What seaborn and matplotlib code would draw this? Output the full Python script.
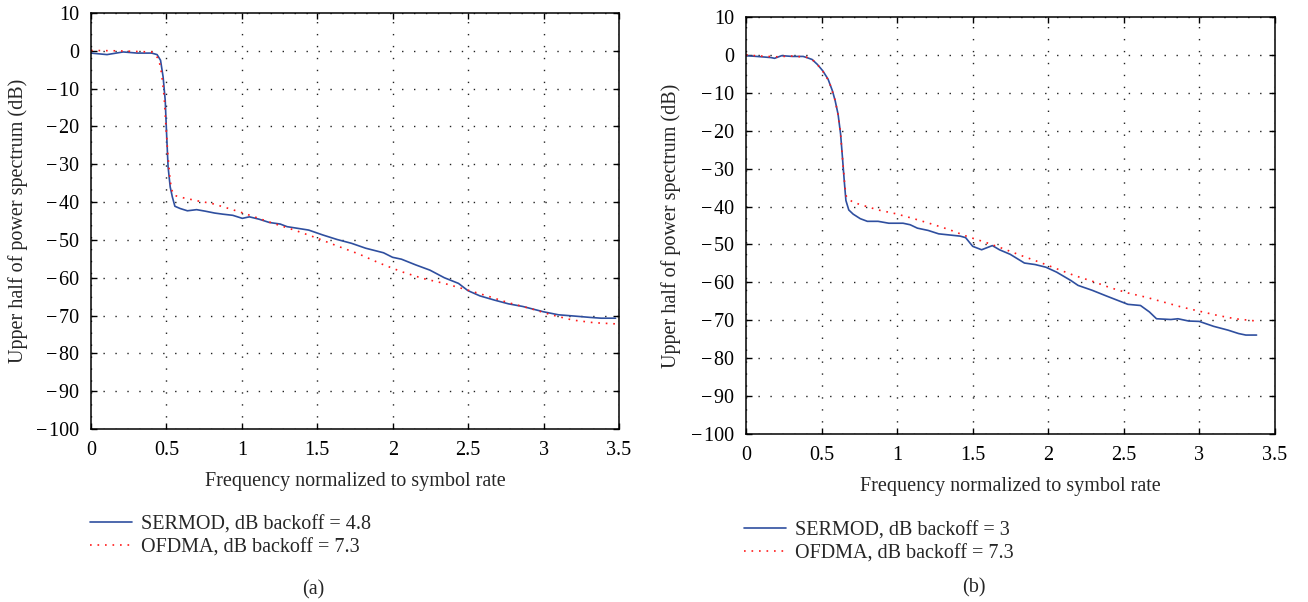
import numpy as np
import pandas as pd
import matplotlib
matplotlib.use("Agg")
import matplotlib.pyplot as plt
import seaborn as sns

# ---- Panel (a): SERMOD 4.8 dB backoff vs OFDMA 7.3 dB backoff ----
a_sermod_f = [0.000, 0.106, 0.213, 0.307, 0.402, 0.438, 0.461, 0.478, 0.492, 0.501,
              0.511, 0.525, 0.539, 0.556, 0.591, 0.639, 0.700, 0.757, 0.820, 0.875,
              0.940, 1.003, 1.050, 1.112, 1.183, 1.254, 1.300, 1.348, 1.443, 1.537,
              1.632, 1.727, 1.821, 1.939, 1.999, 2.058, 2.152, 2.247, 2.342, 2.436,
              2.498, 2.578, 2.673, 2.767, 2.862, 2.999, 3.098, 3.193, 3.311, 3.382, 3.477]
a_sermod_db = [-0.6, -1.0, -0.3, -0.6, -0.6, -1.0, -2.5, -6.9, -13.1, -21.9,
               -30.7, -36.0, -38.6, -41.1, -41.7, -42.3, -42.0, -42.4, -42.9, -43.2,
               -43.5, -44.3, -43.9, -44.5, -45.4, -45.8, -46.5, -46.8, -47.4, -48.7,
               -49.9, -50.9, -52.2, -53.4, -54.6, -55.1, -56.6, -58.0, -60.0, -61.5,
               -63.4, -64.8, -65.9, -66.9, -67.6, -69.0, -69.8, -70.1, -70.5, -70.7, -70.7]

a_ofdma_f = [0.000, 0.166, 0.402, 0.449, 0.468, 0.485, 0.497, 0.509, 0.520, 0.532,
             0.549, 0.615, 0.710, 0.804, 0.922, 1.017, 1.112, 1.206, 1.348, 1.490,
             1.632, 1.774, 1.916, 2.058, 2.200, 2.342, 2.483, 2.625, 2.767, 2.909,
             3.051, 3.193, 3.335, 3.477]
a_ofdma_db = [0.1, 0.0, -0.3, -2.1, -6.0, -12.2, -20.1, -27.1, -32.4, -36.4,
              -38.2, -38.9, -39.7, -40.4, -41.8, -43.0, -44.3, -45.6, -47.4, -49.4,
              -51.6, -53.7, -56.2, -58.4, -60.2, -61.5, -63.1, -64.8, -66.6, -68.1,
              -69.8, -71.2, -71.9, -72.2]

# ---- Panel (b): SERMOD 3 dB backoff vs OFDMA 7.3 dB backoff ----
b_sermod_f = [0.000, 0.071, 0.165, 0.189, 0.236, 0.307, 0.378, 0.402, 0.437, 0.472,
              0.508, 0.543, 0.572, 0.590, 0.609, 0.626, 0.638, 0.650, 0.661, 0.680,
              0.709, 0.756, 0.803, 0.874, 0.945, 1.039, 1.086, 1.134, 1.205, 1.275,
              1.346, 1.417, 1.453, 1.500, 1.559, 1.630, 1.677, 1.748, 1.842, 1.913,
              1.984, 2.055, 2.149, 2.197, 2.291, 2.385, 2.456, 2.527, 2.610, 2.669,
              2.716, 2.811, 2.858, 2.929, 2.999, 3.094, 3.189, 3.259, 3.307, 3.378]
b_sermod_db = [-0.2, -0.4, -0.7, -0.9, -0.2, -0.4, -0.4, -0.7, -1.2, -2.5,
               -4.2, -6.4, -9.5, -12.1, -15.6, -20.9, -27.0, -33.2, -38.4, -40.9,
               -42.0, -43.2, -43.9, -43.9, -44.4, -44.4, -44.8, -45.7, -46.3, -47.2,
               -47.5, -47.8, -48.2, -50.5, -51.4, -50.3, -51.4, -52.6, -54.9, -55.3,
               -56.0, -57.3, -59.5, -60.8, -62.1, -63.6, -64.7, -65.8, -66.1, -67.8,
               -69.6, -69.8, -69.6, -70.2, -70.3, -71.6, -72.6, -73.5, -73.9, -73.9]

b_ofdma_f = [0.000, 0.100, 0.200, 0.300, 0.400, 0.450, 0.500, 0.550, 0.590, 0.610,
             0.625, 0.640, 0.655, 0.665, 0.709, 0.874, 0.992, 1.110, 1.228, 1.346,
             1.464, 1.582, 1.701, 1.819, 1.937, 2.055, 2.173, 2.291, 2.409, 2.527,
             2.645, 2.763, 2.881, 2.999, 3.118, 3.236, 3.378]
b_ofdma_db = [0.0, -0.3, -0.5, -0.3, -0.6, -1.6, -3.8, -7.0, -12.0, -16.0,
              -20.5, -28.0, -35.0, -37.6, -38.9, -40.9, -41.9, -43.2, -44.6, -46.1,
              -47.9, -49.4, -51.1, -52.9, -54.6, -56.4, -58.2, -59.7, -61.4, -62.8,
              -63.9, -65.2, -66.5, -67.6, -68.7, -69.6, -70.2]

x_ticks = [0, 0.5, 1, 1.5, 2, 2.5, 3, 3.5]
x_tick_labels = ["0", "0.5", "1", "1.5", "2", "2.5", "3", "3.5"]
y_ticks = list(range(10, -101, -10))
y_tick_labels = [str(v) if v >= 0 else "\u2212\u200a" + str(-v) for v in y_ticks]

sns.set_style("ticks")
plt.rcParams["font.family"] = ["Liberation Serif", "DejaVu Serif"]

BLUE = "#2f4f9f"
RED = "#ff1a1a"
FS = 14.5
W, H = 1308, 602

fig = plt.figure(figsize=(W / 100, H / 100), dpi=100)
ax_a = fig.add_axes([91 / W, 1 - 429 / H, 528 / W, 416 / H])
ax_b = fig.add_axes([746 / W, 1 - 434 / H, 529 / W, 417 / H])


def make_frame(f_s, db_s, f_o, db_o, s_label, o_label):
    s = pd.DataFrame({"f": f_s, "db": db_s, "series": s_label})
    o = pd.DataFrame({"f": f_o, "db": db_o, "series": o_label})
    return pd.concat([s, o], ignore_index=True)


def draw_panel(ax, df, s_label, o_label, tag, leg_xy, tag_xy, ylab_x):
    sns.lineplot(data=df, x="f", y="db", hue="series", style="series",
                 palette={s_label: BLUE, o_label: RED},
                 dashes={s_label: "", o_label: (1, 3.5)},
                 sort=False, estimator=None, linewidth=1.2, ax=ax, legend=False)
    ax.set_xlim(0, 3.5)
    ax.set_ylim(-100, 10)
    ax.set_xticks(x_ticks)
    ax.set_xticklabels(x_tick_labels)
    ax.set_yticks(y_ticks)
    ax.set_yticklabels(y_tick_labels)
    ax.grid(True, color="#222222", linestyle=(0, (1, 7.6)), linewidth=1.0)
    ax.tick_params(direction="in", length=4.5, width=1.0, top=True, right=True,
                   labelsize=FS, pad=8.5, colors="black")
    for sp in ax.spines.values():
        sp.set_visible(True)
        sp.set_color("black")
        sp.set_linewidth(1.1)
    ax.set_xlabel("Frequency normalized to symbol rate", fontsize=FS)
    ax.set_ylabel("Upper half of power spectrum (dB)", fontsize=FS)
    ax.xaxis.set_label_coords(0.5, -0.103)
    ax.yaxis.set_label_coords(ylab_x, 0.5)

    handles = [
        plt.Line2D([], [], color=BLUE, linewidth=1.2),
        plt.Line2D([], [], color=RED, linewidth=1.2, linestyle=(0, (1, 3.5))),
    ]
    ax.legend(handles, [s_label, o_label], loc="upper left",
              bbox_to_anchor=(leg_xy[0] / W, 1 - leg_xy[1] / H),
              bbox_transform=fig.transFigure,
              frameon=False, fontsize=FS, handlelength=2.1, handletextpad=0.45,
              labelspacing=0.2, borderaxespad=0, borderpad=0)
    fig.text(tag_xy[0] / W, 1 - tag_xy[1] / H, tag, ha="center", va="center", fontsize=FS)


lab_a_s, lab_a_o = "SERMOD, dB backoff = 4.8", "OFDMA, dB backoff = 7.3"
lab_b_s, lab_b_o = "SERMOD, dB backoff = 3", "OFDMA, dB backoff = 7.3"

df_a = make_frame(a_sermod_f, a_sermod_db, a_ofdma_f, a_ofdma_db, lab_a_s, lab_a_o)
df_b = make_frame(b_sermod_f, b_sermod_db, b_ofdma_f, b_ofdma_db, lab_b_s, lab_b_o)

draw_panel(ax_a, df_a, lab_a_s, lab_a_o, "(a)", (90, 515), (313, 590), -0.119)
draw_panel(ax_b, df_b, lab_b_s, lab_b_o, "(b)", (744, 521), (974, 588), -0.123)

fig.savefig("out.png", dpi=100, facecolor="white")
